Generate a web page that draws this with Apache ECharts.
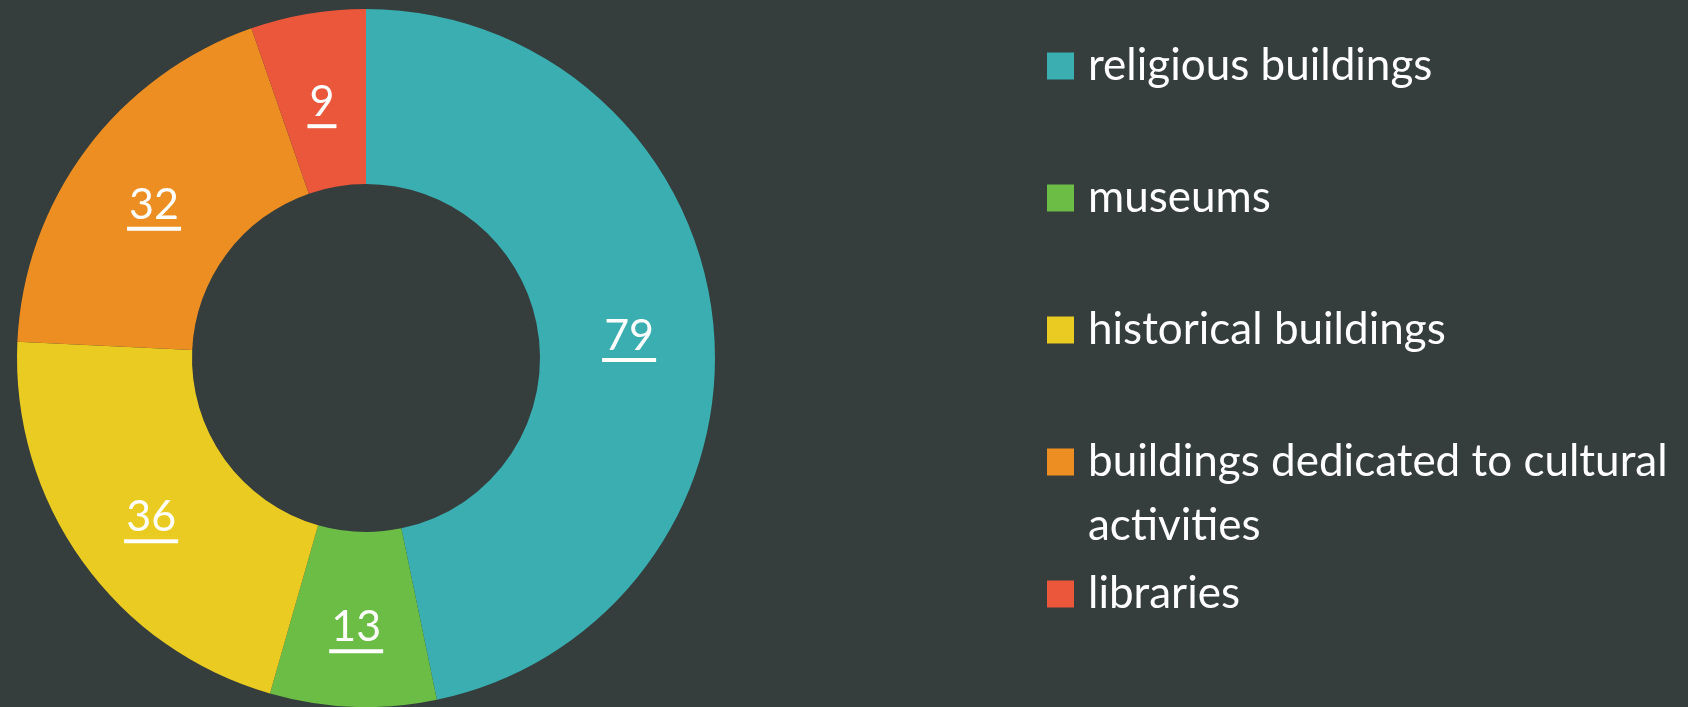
<!DOCTYPE html>
<html>
<head>
<meta charset="utf-8">
<style>
  html, body { margin: 0; padding: 0; background: #353d3d; }
  #chart { width: 1688px; height: 707px; }
</style>
<script src="https://cdn.jsdelivr.net/npm/echarts@6/dist/echarts.min.js"></script>
</head>
<body>
<div id="chart"></div>
<script>
// 数据
const categories = [
  "religious buildings",
  "museums",
  "historical buildings",
  "buildings dedicated to cultural activities",
  "libraries",
];
const values = [79, 13, 36, 32, 9];
const colors = ["#3aaeb0", "#6bbd45", "#eacb22", "#ec8e21", "#eb573b"];

const labelFont = "43px Lato";
const lineH = 64;

// 下划线宽度跟着数字宽度走
const ctx = document.createElement("canvas").getContext("2d");
ctx.font = labelFont;
const rich = {
  v: { fontSize: 43, fontFamily: "Lato", color: "#fff", lineHeight: 44 },
};
values.forEach((v, i) => {
  rich["u" + i] = {
    width: Math.round(ctx.measureText(String(v)).width) + 4,
    height: 4,
    backgroundColor: "#fff",
  };
});

const chart = echarts.init(document.getElementById("chart"));

// 每个图例单独放，方便控制位置（图标中心间距 132）
const longName = "buildings dedicated to cultural activities";
const legends = categories.map((name, i) => {
  const wrapped = name === longName;
  const center = 65.5 + 132 * i;
  return {
    data: [name],
    orient: "vertical",
    left: 1047,
    // 换行那项前面加了一空行，让图标对齐第一行
    top: Math.round(center - (wrapped ? lineH * 1.5 : lineH / 2)),
    padding: 0,
    itemWidth: 27,
    itemHeight: 27,
    icon: "rect",
    selectedMode: false,
    formatter: (n) =>
      n === longName ? "\nbuildings dedicated to cultural\nactivities" : n,
    textStyle: {
      color: "#fff",
      fontFamily: "Lato",
      fontSize: 44,
      lineHeight: lineH,
      padding: [0, 0, 0, 9],
    },
  };
});

chart.setOption({
  backgroundColor: "#353d3d",
  animation: false,
  color: colors,
  legend: legends,
  series: [
    {
      type: "pie",
      center: [366, 358],
      radius: [174, 349],
      startAngle: 90,
      clockwise: true,
      avoidLabelOverlap: false,
      emphasis: { disabled: true },
      label: {
        show: true,
        position: "inside",
        offset: [0, 7],
        formatter: (p) => "{v|" + p.value + "}\n{u" + p.dataIndex + "|}",
        rich: rich,
      },
      labelLine: { show: false },
      data: categories.map((name, i) => ({ name: name, value: values[i] })),
    },
  ],
});
</script>
</body>
</html>
